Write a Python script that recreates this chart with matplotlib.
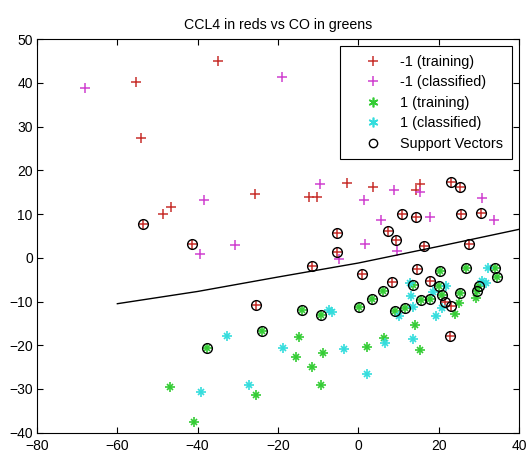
import matplotlib
matplotlib.use("Agg")
import matplotlib.pyplot as plt
from matplotlib.lines import Line2D
import numpy as np

plt.rcParams['font.family'] = ['Liberation Sans', 'DejaVu Sans']

title = "CCL4 in reds vs CO in greens"
legend_labels = ["-1 (training)", "-1 (classified)", "1 (training)", "1 (classified)", "Support Vectors"]

# -1 training (red +), not support vectors
neg_train_x = [-55.3, -35.0, -54.2, -48.75, -46.7, -25.7, -12.25, -10.2, -2.9, 3.75, 15.3, 14.3]
neg_train_y = [40.3, 45.0, 27.3, 10.0, 11.6, 14.6, 14.0, 14.0, 17.0, 16.3, 16.8, 15.6]

# -1 training that are support vectors
neg_sv_x = [-53.7, -41.4, -25.4, -11.6, -5.2, -5.4, 0.9, 7.5, 9.4, 10.9, 14.3, 16.3, 23.2, 25.2,
            25.6, 30.6, 27.5, 14.7, 17.75, 8.4, 21.7, 23.2, 22.75]
neg_sv_y = [7.7, 3.2, -10.7, -1.8, 5.6, 1.4, -3.6, 6.2, 4.1, 10.0, 9.3, 2.7, 17.4, 16.2,
            9.9, 10.3, 3.2, -2.5, -5.4, -5.6, -10.2, -11.1, -17.8]

# -1 classified (magenta +)
neg_cls_x = [-68.1, -19.1, -38.3, -39.5, -30.7, -9.6, 1.5, 5.7, 1.75, -4.8, 9.0, 15.4, 30.7, 17.75, 33.7, 9.7]
neg_cls_y = [38.9, 41.3, 13.2, 0.8, 3.0, 16.8, 13.1, 8.7, 3.2, -0.2, 15.4, 15.1, 13.6, 9.3, 8.7, 1.5]

# 1 training (green *), not support vectors
pos_train_x = [29.4, 25.0, 24.2, 14.2, 15.25, 6.3, 2.2, -8.9, -11.6, -9.3, -14.75, -15.6, -47.0, -25.4, -41.0]
pos_train_y = [-9.1, -10.3, -12.9, -15.4, -21.2, -18.3, -20.5, -21.8, -25.0, -29.0, -18.2, -22.8, -29.5, -31.4, -37.6]

# 1 training that are support vectors
pos_sv_x = [20.25, 26.9, 34.1, 34.6, 30.0, 29.6, 13.6, 6.25, 3.3, 0.1, -14.1, -9.3, 9.25, 11.7,
            15.5, 17.75, 20.1, 20.8, 25.25, -24.1, -37.8]
pos_sv_y = [-3.0, -2.3, -2.4, -4.3, -6.4, -7.7, -6.3, -7.5, -9.4, -11.3, -12.0, -13.1, -12.1, -11.5,
            -9.6, -9.4, -6.4, -8.6, -8.1, -16.7, -20.6]

# 1 classified (cyan *)
pos_cls_x = [32.2, 31.9, 30.9, 12.9, -7.4, -6.6, 10.1, 13.2, 13.6, 18.6, 21.75, 20.9, 19.25, 13.6,
             6.75, 2.1, -3.5, -18.85, -32.8, -39.1, -27.25]
pos_cls_y = [-2.4, -5.8, -5.3, -5.7, -11.9, -12.5, -13.2, -8.8, -11.3, -7.9, -6.5, -11.5, -13.4, -18.6,
             -19.5, -26.5, -20.8, -20.6, -17.8, -30.7, -29.2]

# decision boundary
line_x = [-60, -40, -20, 0, 20, 40]
line_y = [-10.5, -7.7, -4.4, -1.2, 2.6, 6.5]

RED = '#c8302c'
MAG = '#d040d0'
GRN = '#33cc33'
CYN = '#33dddd'

fig = plt.figure(figsize=(5.29, 4.55), dpi=100)
ax = fig.add_axes([0.070, 0.049, 0.911, 0.865])

PLUS_MS = 7.5

def star(ax, x, y, c):
    ax.plot(x, y, linestyle='none', marker='+', color=c, markersize=7.5, markeredgewidth=1.2)
    ax.plot(x, y, linestyle='none', marker='x', color=c, markersize=5.0, markeredgewidth=1.2)

ax.plot(neg_train_x + neg_sv_x, neg_train_y + neg_sv_y, linestyle='none', marker='+',
        color=RED, markersize=PLUS_MS, markeredgewidth=1.1)
ax.plot(neg_cls_x, neg_cls_y, linestyle='none', marker='+', color=MAG, markersize=PLUS_MS, markeredgewidth=1.1)
star(ax, pos_train_x + pos_sv_x, pos_train_y + pos_sv_y, GRN)
star(ax, pos_cls_x, pos_cls_y, CYN)
ax.plot(neg_sv_x + pos_sv_x, neg_sv_y + pos_sv_y, linestyle='none', marker='o', markersize=7,
        markerfacecolor='none', markeredgecolor='black', markeredgewidth=1.0)
ax.plot(line_x, line_y, color='black', linewidth=1.0)

handles = [
    Line2D([], [], linestyle='none', marker='+', color=RED, markersize=PLUS_MS, markeredgewidth=1.1),
    Line2D([], [], linestyle='none', marker='+', color=MAG, markersize=PLUS_MS, markeredgewidth=1.1),
    Line2D([], [], linestyle='none', marker=(6, 2, 0), color=GRN, markersize=7, markeredgewidth=1.2),
    Line2D([], [], linestyle='none', marker=(6, 2, 0), color=CYN, markersize=7, markeredgewidth=1.2),
    Line2D([], [], linestyle='none', marker='o', markersize=6, markerfacecolor='none',
           markeredgecolor='black', markeredgewidth=1.0),
]
leg = ax.legend(handles, legend_labels, loc='upper right', fontsize=10.4, frameon=True, fancybox=False,
                edgecolor='black', framealpha=1, borderpad=0.58, labelspacing=0.45, handletextpad=0.2,
                borderaxespad=0.5, handlelength=3.4)
leg.get_frame().set_linewidth(0.8)

ax.set_xlim(-80, 40)
ax.set_ylim(-40, 50)
ax.set_xticks(np.arange(-80, 41, 20))
ax.set_yticks(np.arange(-40, 51, 10))
ax.tick_params(direction='in', top=True, right=True, labelsize=10, length=4, width=0.8)
ax.tick_params(axis='x', pad=4.5)
ax.tick_params(axis='y', pad=3)
for s in ax.spines.values():
    s.set_linewidth(0.8)
ax.set_title(title, fontsize=10.2, pad=7)

fig.savefig('out.png', dpi=100)
